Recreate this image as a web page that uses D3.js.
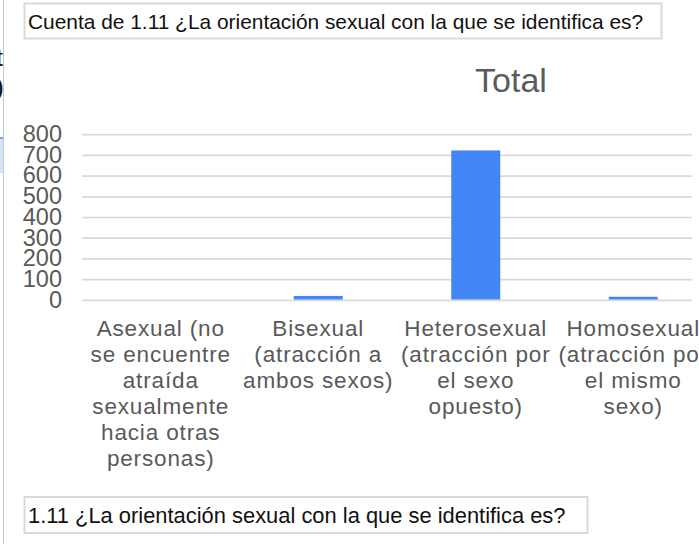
<!DOCTYPE html>
<html>
<head>
<meta charset="utf-8">
<script src="https://cdn.jsdelivr.net/npm/d3@7"></script>
<style>
  body { margin: 0; background: #fff; }
  svg { display: block; font-family: "Liberation Sans", Arial, sans-serif; }
</style>
</head>
<body>
<div id="chart"></div>
<script>
// data
let categories = ["Asexual", "Bisexual", "Heterosexual", "Homosexual"];
let categoryLines = [
  ["Asexual (no", "se encuentre", "atraída", "sexualmente", "hacia otras", "personas)"],
  ["Bisexual", "(atracción a", "ambos sexos)"],
  ["Heterosexual", "(atracción por", "el sexo", "opuesto)"],
  ["Homosexual", "(atracción por", "el mismo", "sexo)"]
];
let counts = [1, 21, 724, 17];
let yTicks = [0, 100, 200, 300, 400, 500, 600, 700, 800];
let chartTitle = "Total";
let headerText = "Cuenta de 1.11 ¿La orientación sexual con la que se identifica es?";
let footerText = "1.11 ¿La orientación sexual con la que se identifica es?";

let width = 699;
let height = 544;
let plot = {left: 82, right: 712, top: 134.7, bottom: 300.3, clip: 692};

let svg = d3.select("#chart").append("svg")
  .attr("width", width)
  .attr("height", height);

svg.append("rect")
  .attr("width", width)
  .attr("height", height)
  .attr("fill", "#fff");

// bits of the spreadsheet to the left
svg.append("rect")
  .attr("x", 0).attr("y", 138)
  .attr("width", 3).attr("height", 35)
  .attr("fill", "#d6e4fb");
svg.append("rect")
  .attr("x", 0).attr("y", 137)
  .attr("width", 3).attr("height", 2)
  .attr("fill", "#6fa3f7");
svg.append("text").attr("x", 3).attr("y", 66)
  .attr("text-anchor", "end").attr("font-size", 24).attr("fill", "#111")
  .text("t");
svg.append("text").attr("x", 4).attr("y", 96)
  .attr("text-anchor", "end").attr("font-size", 26).attr("fill", "#111")
  .text("0)");
svg.append("line")
  .attr("x1", 3.5).attr("x2", 3.5)
  .attr("y1", 0).attr("y2", height)
  .attr("stroke", "#c8c8c8");

// header and footer boxes
function drawBox(x, y, w, h, label, size, baseline) {
  svg.append("rect")
    .attr("x", x).attr("y", y)
    .attr("width", w).attr("height", h)
    .attr("fill", "#fff")
    .attr("stroke", "#dadada")
    .attr("stroke-width", 2);
  svg.append("text")
    .attr("x", x + 3.5).attr("y", baseline)
    .attr("font-size", size)
    .attr("fill", "#111")
    .text(label);
}
drawBox(24.5, 3.5, 637, 35, headerText, 20.9, 29);
drawBox(24.5, 497, 563, 36, footerText, 21.9, 523);

// chart
let x = d3.scaleBand()
  .domain(categories)
  .range([plot.left, plot.right])
  .paddingInner(0.689)
  .paddingOuter(0.3445);

let y = d3.scaleLinear()
  .domain([0, 800])
  .range([plot.bottom, plot.top]);

svg.append("text")
  .attr("x", 511)
  .attr("y", 92)
  .attr("text-anchor", "middle")
  .attr("font-size", 34)
  .attr("fill", "#5b5b5b")
  .text(chartTitle);

svg.append("clipPath").attr("id", "plotclip")
  .append("rect")
  .attr("x", 0).attr("y", 0)
  .attr("width", plot.clip).attr("height", height);

let grid = svg.append("g").attr("clip-path", "url(#plotclip)");

grid.selectAll("line.grid")
  .data(yTicks)
  .enter()
  .append("line")
  .attr("class", "grid")
  .attr("x1", plot.left)
  .attr("x2", plot.right)
  .attr("y1", d => y(d))
  .attr("y2", d => y(d))
  .attr("stroke", "#d9d9d9")
  .attr("stroke-width", 1.7);

let yAxis = svg.append("g")
  .attr("transform", "translate(" + (plot.left - 20) + ",0)")
  .call(d3.axisLeft(y).tickValues(yTicks).tickSize(0).tickPadding(0));
yAxis.select(".domain").remove();
yAxis.selectAll("text")
  .attr("font-family", "Liberation Sans, Arial, sans-serif")
  .attr("font-size", 23.5)
  .attr("fill", "#595959")
  .attr("dy", "0.29em");

grid.selectAll("rect.bar")
  .data(counts)
  .enter()
  .append("rect")
  .attr("class", "bar")
  .attr("x", (d, i) => x(categories[i]))
  .attr("width", x.bandwidth())
  .attr("y", d => y(d))
  .attr("height", d => y(0) - y(d) - 0.8)
  .attr("fill", "#4285f4");

let labels = svg.selectAll("text.cat")
  .data(categoryLines)
  .enter()
  .append("text")
  .attr("class", "cat")
  .attr("text-anchor", "middle")
  .attr("font-size", 22.5)
  .attr("letter-spacing", 0.85)
  .attr("fill", "#595959");

labels.each(function(lines, i) {
  let cx = x(categories[i]) + x.bandwidth() / 2;
  d3.select(this).selectAll("tspan")
    .data(lines)
    .enter()
    .append("tspan")
    .attr("x", cx)
    .attr("y", (d, j) => 336 + j * 26)
    .text(d => d);
});
</script>
</body>
</html>
